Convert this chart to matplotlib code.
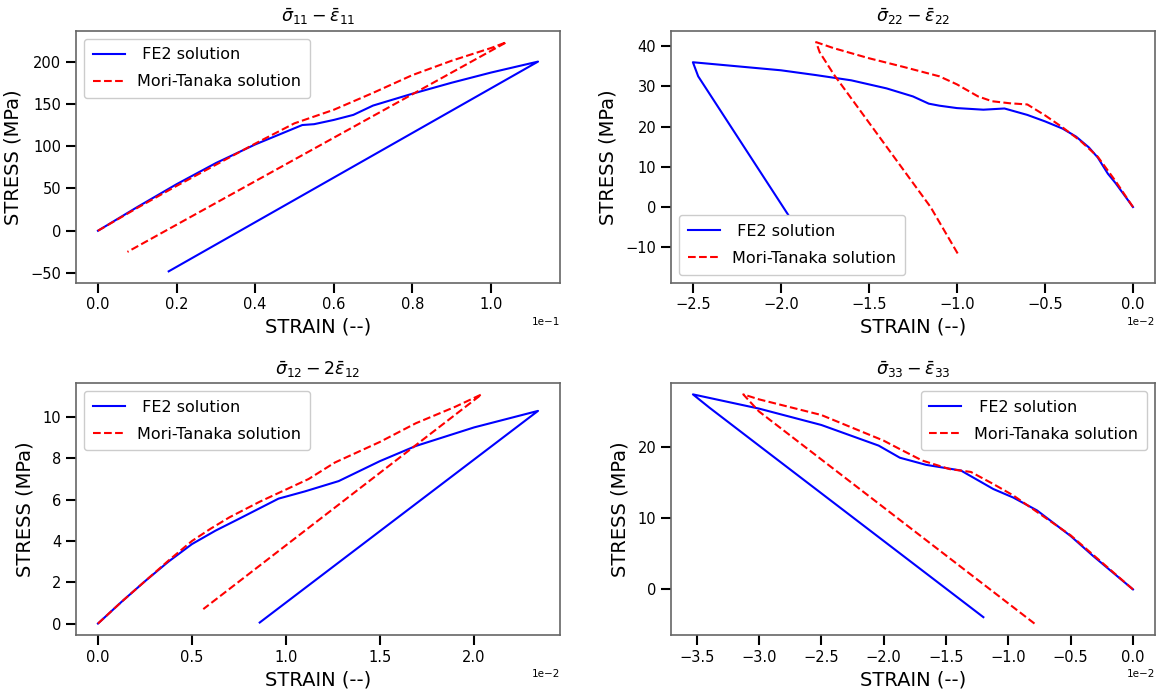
import matplotlib.pyplot as plt
import matplotlib
from matplotlib.ticker import MultipleLocator

# sigma11 - eps11
s11_fe2_x = [0, 0.01, 0.02, 0.03, 0.04, 0.052, 0.055, 0.06, 0.065, 0.07, 0.08, 0.09, 0.10, 0.112, 0.018]
s11_fe2_y = [0, 28, 55, 80, 102, 125, 126, 131, 137, 148, 162, 175, 187, 200, -48]
s11_mt_x = [0, 0.01, 0.02, 0.03, 0.04, 0.05, 0.06, 0.065, 0.07, 0.08, 0.09, 0.10, 0.104, 0.0075]
s11_mt_y = [0, 27, 53, 78, 103, 127, 143, 153, 163, 184, 201, 216, 223, -25]

# sigma22 - eps22
s22_fe2_x = [0, -0.0005, -0.001, -0.00143, -0.002, -0.0025, -0.00323, -0.004, -0.005, -0.006, -0.0073,
             -0.0085, -0.010, -0.011, -0.0116, -0.0125, -0.014, -0.016, -0.018, -0.020, -0.0225,
             -0.025, -0.0247, -0.0175]
s22_fe2_y = [0, 3, 6, 8.3, 12.3, 14.8, 17.5, 19.5, 21.3, 22.9, 24.5, 24.2, 24.6, 25.2, 25.7, 27.5, 29.5,
             31.5, 32.8, 34, 35, 36, 32.5, -16]
s22_mt_x = [0, -0.001, -0.002, -0.003, -0.004, -0.005, -0.006, -0.007, -0.008, -0.0088, -0.010,
            -0.011, -0.013, -0.015, -0.017, -0.018, -0.0178, -0.017, -0.0115, -0.0099]
s22_mt_y = [0, 6.5, 12.5, 16.5, 19.8, 22.8, 25.5, 25.8, 26.3, 27.5, 30.5, 32.5, 34.8, 37, 39.5, 41,
            38.5, 33, 0, -12]

# sigma12 - 2 eps12
s12_fe2_x = [0, 0.00125, 0.0025, 0.00375, 0.005, 0.00625, 0.00745, 0.0096, 0.011, 0.0128, 0.015,
             0.0169, 0.020, 0.0234, 0.0086]
s12_fe2_y = [0, 1.05, 2.05, 3.0, 3.85, 4.5, 5.05, 6.05, 6.4, 6.9, 7.87, 8.6, 9.5, 10.3, 0.05]
s12_mt_x = [0, 0.00125, 0.0025, 0.00375, 0.005, 0.006, 0.007, 0.0086, 0.0112, 0.0126, 0.015, 0.0169,
            0.019, 0.0204, 0.0056]
s12_mt_y = [0, 1.05, 2.05, 3.05, 4.0, 4.6, 5.15, 5.9, 7.0, 7.8, 8.8, 9.7, 10.5, 11.1, 0.7]

# sigma33 - eps33
s33_fe2_x = [0, -0.0032, -0.005, -0.0077, -0.0096, -0.0112, -0.0138, -0.0166, -0.0187, -0.0204,
             -0.025, -0.030, -0.0353, -0.03395, -0.030, -0.012]
s33_fe2_y = [0, 4.7, 7.5, 11.1, 12.9, 14.1, 16.7, 17.5, 18.5, 20.2, 23.1, 25.4, 27.4, 25.5, 20.2, -3.9]
s33_mt_x = [0, -0.005, -0.0096, -0.0112, -0.013, -0.0147, -0.0169, -0.0188, -0.020, -0.025, -0.030,
            -0.03126, -0.030, -0.0079]
s33_mt_y = [0, 7.6, 13.2, 14.8, 16.5, 16.9, 18.1, 19.8, 20.9, 24.5, 26.7, 27.4, 25.0, -4.8]

titles = [r'$\bar{\sigma}_{11}-\bar{\varepsilon}_{11}$', r'$\bar{\sigma}_{22}-\bar{\varepsilon}_{22}$',
          r'$\bar{\sigma}_{12}-2\bar{\varepsilon}_{12}$', r'$\bar{\sigma}_{33}-\bar{\varepsilon}_{33}$']
data = [(s11_fe2_x, s11_fe2_y, s11_mt_x, s11_mt_y),
        (s22_fe2_x, s22_fe2_y, s22_mt_x, s22_mt_y),
        (s12_fe2_x, s12_fe2_y, s12_mt_x, s12_mt_y),
        (s33_fe2_x, s33_fe2_y, s33_mt_x, s33_mt_y)]
legend_locs = ['upper left', 'lower left', 'upper left', 'upper right']

matplotlib.rcParams['font.family'] = 'DejaVu Sans'
fig, axes = plt.subplots(2, 2, figsize=(11.65, 6.91), dpi=100)
plt.subplots_adjust(left=0.0652, right=0.9914, top=0.9556, bottom=0.081, wspace=0.229, hspace=0.397)

for ax, t, d, loc in zip(axes.flat, titles, data, legend_locs):
    ax.plot(d[0], d[1], 'b-', linewidth=1.5, label=' FE2 solution')
    ax.plot(d[2], d[3], 'r--', linewidth=1.5, label='Mori-Tanaka solution')
    ax.set_title(t, fontsize=12.5)
    ax.set_xlabel('STRAIN (--)', fontsize=14)
    ax.set_ylabel('STRESS (MPa)', fontsize=14, labelpad=6)
    ax.ticklabel_format(axis='x', style='sci', scilimits=(0, 0))
    ax.xaxis.get_offset_text().set_fontsize(7.5)
    ax.tick_params(axis='both', labelsize=10.5, length=7, width=1.5, color='black')
    for sp in ax.spines.values():
        sp.set_color('#666666')
        sp.set_linewidth(1.2)
    ax.legend(loc=loc, fontsize=11.5, framealpha=1, labelspacing=0.75, borderpad=0.55)

axes[1, 1].yaxis.set_major_locator(MultipleLocator(10))

plt.savefig('out.png', dpi=100)
plt.close()
